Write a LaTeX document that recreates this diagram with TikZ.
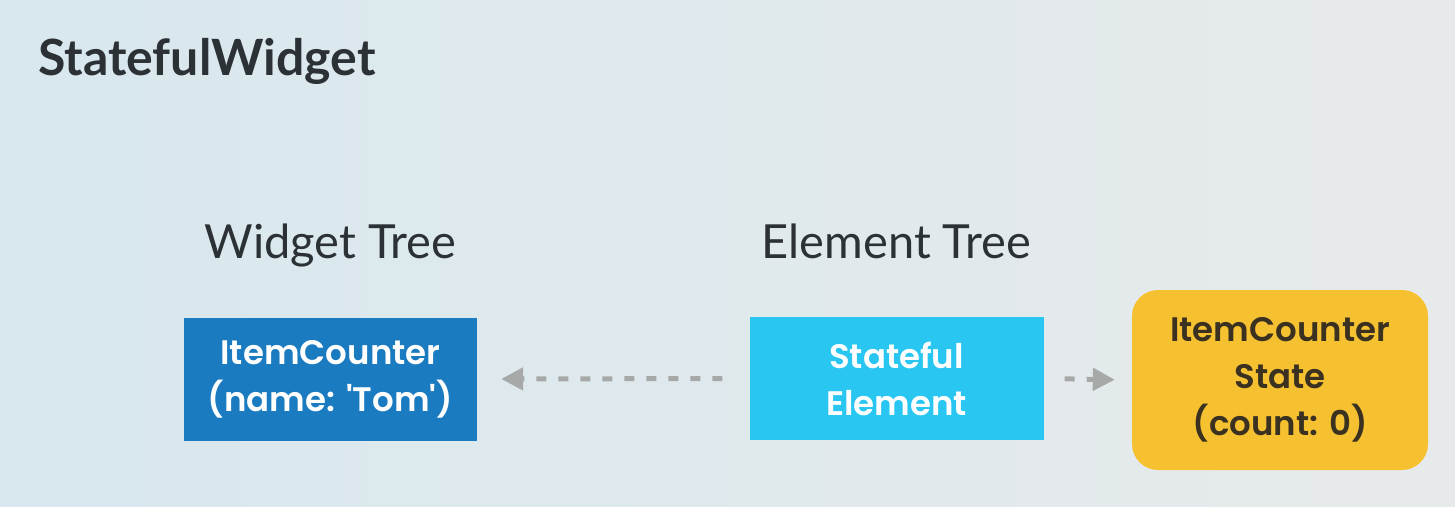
\documentclass[tikz,border=0pt]{standalone}
\usepackage{fontspec}
\setmainfont{Lato}
\newfontfamily\boxfont{Poppins SemiBold}
\usetikzlibrary{arrows.meta}
\definecolor{bgl}{HTML}{D8E8EE}
\definecolor{bgr}{HTML}{E7EAEB}
\definecolor{titlec}{HTML}{2B3134}
\definecolor{darkblue}{HTML}{1A7BC1}
\definecolor{lightblue}{HTML}{29C6F2}
\definecolor{yellowc}{HTML}{F6C131}
\definecolor{statetext}{HTML}{3A3120}
\definecolor{arrowc}{HTML}{A7A9A9}
\tikzset{
  boxtext/.style={font=\boxfont\fontsize{34}{47}\selectfont, align=center, inner sep=0pt},
  wbox/.style={boxtext, fill=darkblue, text=white, minimum width=293pt, minimum height=123pt},
  ebox/.style={boxtext, fill=lightblue, text=white, minimum width=294pt, minimum height=123pt},
  sbox/.style={boxtext, fill=yellowc, text=statetext, minimum width=296pt, minimum height=180pt, rounded corners=26pt},
  heading/.style={font=\fontsize{47}{56}\selectfont, text=titlec, inner sep=0pt},
  dasharrow/.style={draw=arrowc, line width=5pt, dash pattern=on 10pt off 12pt, -{Triangle[length=22pt,width=22pt]}}
}
\begin{document}
\begin{tikzpicture}[x=1pt,y=-1pt]
\shade[left color=bgl, right color=bgr] (0,0) rectangle (1455,506);
\useasboundingbox (0,0) rectangle (1455,506);
\node[font=\fontsize{50}{60}\selectfont\bfseries, text=titlec, inner sep=0pt, anchor=base west] (title) at (38,75) {StatefulWidget};
\node[heading, anchor=base] (wt) at (330.5,258) {Widget Tree};
\node[heading, anchor=base] (et) at (896.5,258) {Element Tree};
\node[wbox] (w) at (330.5,379) {ItemCounter\\(name: \textquotesingle Tom\textquotesingle)};
\node[ebox] (e) at (896.5,378.5) {Stateful\\Element};
\node[sbox] (s) at (1280,380) {ItemCounter\\State\\(count: 0)};
\draw[dasharrow, shorten <=27pt, shorten >=24pt] (e.west) -- (w.east);
\draw[dasharrow, shorten <=21pt, shorten >=17pt] (e.east) -- (s.west);
\end{tikzpicture}
\end{document}
